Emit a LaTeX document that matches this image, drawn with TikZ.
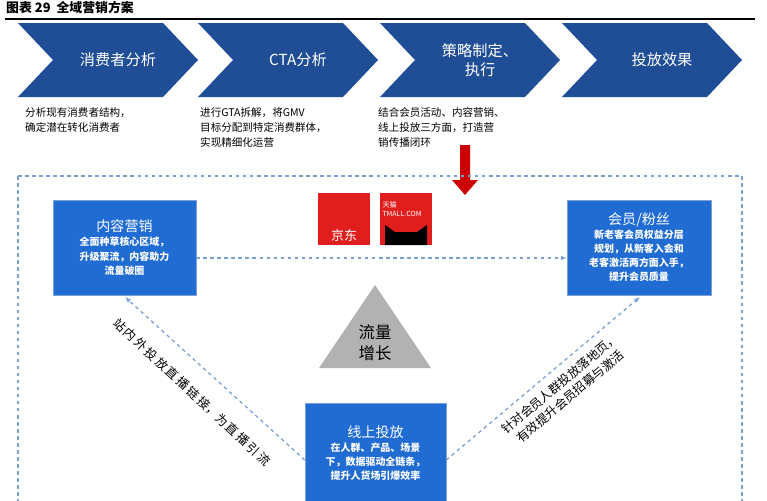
\documentclass[tikz,border=0pt]{standalone}
\usepackage{fontspec}
\setmainfont{Noto Sans CJK SC}
\usetikzlibrary{arrows.meta}
\definecolor{navy}{RGB}{31,78,150}
\definecolor{boxblue}{RGB}{32,108,210}
\definecolor{dashblue}{RGB}{120,160,210}
\definecolor{jdred}{RGB}{225,30,30}
\begin{document}
\begin{tikzpicture}[x=0.03cm,y=-0.03cm]

  \tikzstyle{chevron} = [fill=navy]
  \tikzstyle{chevtext} = [white, font=\fontsize{13}{16}\selectfont, align=center]
  \tikzstyle{desc} = [anchor=north west, font=\fontsize{9}{13}\selectfont, align=left, inner sep=0]
  \tikzstyle{card} = [fill=boxblue, draw=dashblue, text=white, align=center, font=\fontsize{8.5}{12}\selectfont\bfseries, inner sep=2]
  \tikzstyle{flow} = [dashed, draw=dashblue, line width=1.1, -{Latex[length=5,width=4]}]

  \useasboundingbox (0,0) rectangle (767,500);

  \node[anchor=west, font=\fontsize{11}{12}\selectfont\bfseries, inner sep=0] (title) at (6,8) {图表 29\ \ 全域营销方案};
  \draw[line width=1] (5,19) -- (755,19);

  % chevrons
  \foreach \x/\t [count=\i] in {18/消费者分析, 198/CTA分析, 380/{策略制定、\\执行}, 562/投放效果} {
    \fill[chevron] (\x,23) -- (\x+145,23) -- (\x+180,60) -- (\x+145,97) -- (\x,97) -- (\x+35,60) -- cycle;
    \node[chevtext] (chev\i) at (\x+100,60) {\t};
  }

  \node[desc] (d1) at (25,107) {分析现有消费者结构，\\确定潜在转化消费者};
  \node[desc] (d2) at (200,107) {进行GTA拆解，将GMV\\目标分配到特定消费群体，\\实现精细化运营};
  \node[desc] (d3) at (378,107) {结合会员活动、内容营销、\\线上投放三方面，打造营\\销传播闭环};

  % red arrow
  \fill[red!80!black] (460,145) rectangle (470,180) (452,180) -- (478,180) -- (465,195) -- cycle;

  % frame
  \draw[dashed, dashblue, line width=1] (18,176) -- (742,176) -- (742,505) (18,176) -- (18,505);

  % logos
  \fill[jdred] (318,193) rectangle (370,245);
  \node[white, font=\fontsize{11}{12}\selectfont] (jd) at (344,236) {京东};
  \fill[jdred] (380,193) rectangle (432,245);
  \node[white, font=\fontsize{6}{7}\selectfont, align=left, inner sep=0] (tm) at (402,209) {天猫\\TMALL.COM};
  \fill[black] (385,245) -- (385,225) -- (395,232) -- (417,232) -- (427,225) -- (427,245) -- cycle;

  \node[card, minimum width=143*0.03cm, minimum height=95*0.03cm] (content) at (124.5,247.5) {{\fontsize{12}{16}\selectfont\mdseries 内容营销}\\全面种草核心区域，\\升级聚流，内容助力\\流量破圈};
  \node[card, minimum width=144*0.03cm, minimum height=95*0.03cm] (member) at (639,247.5) {{\fontsize{12}{16}\selectfont\mdseries 会员/粉丝}\\新老客会员权益分层\\规划，从新客入会和\\老客激活两方面入手，\\提升会员质量};
  \node[card, minimum width=141*0.03cm, minimum height=100*0.03cm] (online) at (375.5,453) {{\fontsize{12}{16}\selectfont\mdseries 线上投放}\\在人群、产品、场景\\下，数据驱动全链条，\\提升人货场引爆效率};

  \fill[gray!60] (375,285) -- (431,368) -- (319,368) -- cycle;
  \node[font=\fontsize{14}{18}\selectfont, align=center] (growth) at (375,343) {流量\\增长};

  \coordinate (lt) at (125,297);
  \coordinate (rt) at (640,297);
  \draw[flow] (content.east |- 0,258) -- (member.west |- 0,258);
  \draw[flow] (online.west |- 0,460) -- (lt);
  \draw[flow] (online.east |- 0,460) -- (rt);

  \node[rotate=-43, font=\fontsize{10.5}{13}\selectfont] (ll) at (192,392) {站\,内\,外\,投\,放\,直\,播\,链\,接，为\,直\,播\,引\,流};
  \node[rotate=40, font=\fontsize{10.5}{14}\selectfont, align=center] (rl) at (565,390) {针对会员人群投放落地页，\\有效提升会员招募与激活};

\end{tikzpicture}
\end{document}
